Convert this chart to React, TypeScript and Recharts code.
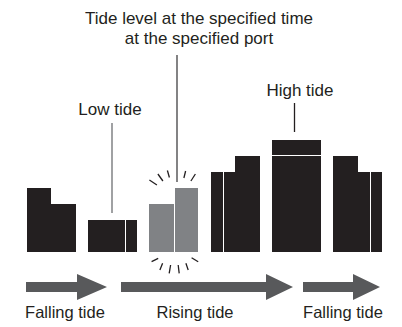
import React from "react";
import { BarChart, Bar, XAxis, YAxis, Customized } from "recharts";

// ---- data ----
const categories = [
  "g1a", "g1b", "g1c", "g1d", "sp1",
  "g2a", "g2b", "g2c", "g2d", "sp2",
  "g3a", "g3b", "g3c", "g3d", "sp3",
  "g4a", "g4b", "g4c", "g4d", "sp4",
  "g5a", "g5b", "g5c", "g5d", "sp5",
  "g6a", "g6b", "g6c", "g6d",
];
const baseLevel = [4, 4, 3, 3, 0, 2, 2, 2, 2, 0, 3, 3, 4, 4, 0, 5, 5, 6, 6, 0, 6, 6, 6, 6, 0, 6, 6, 5, 5];
const capLevel = [0, 0, 0, 0, 0, 0, 0, 0, 0, 0, 0, 0, 0, 0, 0, 0, 0, 0, 0, 0, 1, 1, 1, 1, 0, 0, 0, 0, 0];
const highlighted = [0, 0, 0, 0, 0, 0, 0, 0, 0, 0, 1, 1, 1, 1, 0, 0, 0, 0, 0, 0, 0, 0, 0, 0, 0, 0, 0, 0, 0];
const splitBefore = [0, 0, 0, 0, 0, 0, 0, 0, 1, 0, 0, 0, 1, 0, 0, 0, 1, 0, 0, 0, 0, 0, 0, 0, 0, 0, 0, 0, 1];
const sparkleAt = "g3c";
const phaseLabels = ["Falling tide", "Rising tide", "Falling tide"];
const titleLines = ["Tide level at the specified time", "at the specified port"];
const lowLabel = "Low tide";
const highLabel = "High tide";

const data = categories.map((c, i) => ({
  slot: c,
  base: baseLevel[i],
  cap: capLevel[i],
  hl: highlighted[i] === 1,
  split: splitBefore[i] === 1,
}));

// ---- layout ----
const W = 402;
const H = 327;
const MARGIN = { top: 0, right: 20, bottom: 75, left: 27 };
const PLOT_W = W - MARGIN.left - MARGIN.right;
const BAND = PLOT_W / categories.length;

const BLACK = "#231f20";
const GREY = "#808285";
const ARROW = "#58595b";
const FONT = "'Liberation Sans', Arial, Helvetica, sans-serif";

const topSparks = [
  [-24.5, -8, -17, -3],
  [-16, -14, -11, -7],
  [-6.5, -17.5, -4.5, -10.5],
  [11.7, -17, 10, -10],
  [21.5, -14, 17, -7],
];
const bottomSparks = [
  [-22.3, 9.7, -15.7, 6.3],
  [-14, 18, -11.3, 11.3],
  [-4.7, 21.3, -3.3, 13],
  [5.3, 21.3, 4.3, 13],
  [14.3, 18, 12, 11.3],
  [24.3, 9.7, 17.7, 5.7],
];

const BaseShape = (props: any) => {
  const { x, y, height, payload } = props;
  if (!height || height <= 0) return null;
  const fill = payload.hl ? GREY : BLACK;
  const bottom = y + height;
  return (
    <g>
      <rect x={x} y={y} width={BAND} height={height} fill={fill} shapeRendering="crispEdges" />
      {payload.split && (
        <rect x={x} y={y} width={1} height={height} fill="#fff" shapeRendering="crispEdges" />
      )}
      {payload.slot === sparkleAt && (
        <g stroke={BLACK} strokeWidth={1.3} strokeLinecap="butt">
          {topSparks.map((s, i) => (
            <line key={"t" + i} x1={x + s[0]} y1={y + s[1]} x2={x + s[2]} y2={y + s[3]} />
          ))}
          {bottomSparks.map((s, i) => (
            <line key={"b" + i} x1={x + s[0]} y1={bottom + s[1]} x2={x + s[2]} y2={bottom + s[3]} />
          ))}
        </g>
      )}
    </g>
  );
};

const CapShape = (props: any) => {
  const { x, y, height } = props;
  if (!height || height <= 0) return null;
  return <rect x={x} y={y} width={BAND} height={height - 1} fill={BLACK} shapeRendering="crispEdges" />;
};

const arrowPath = (x0: number, xb: number, xt: number, cy: number) =>
  `M${x0},${cy - 5} L${xb},${cy - 5} L${xb},${cy - 13} L${xt},${cy} L${xb},${cy + 13} L${xb},${cy + 5} L${x0},${cy + 5} Z`;

const Annotations = () => (
  <g fontFamily={FONT} fill={BLACK}>
    <text x={199} y={24} fontSize={17} textAnchor="middle">{titleLines[0]}</text>
    <text x={199} y={44} fontSize={17} textAnchor="middle">{titleLines[1]}</text>
    <text x={110} y={115} fontSize={17} textAnchor="middle">{lowLabel}</text>
    <text x={300} y={96} fontSize={17} textAnchor="middle">{highLabel}</text>
    <line x1={177} y1={55} x2={177} y2={182} stroke="#414042" strokeWidth={1.3} />
    <line x1={112} y1={123} x2={112} y2={213} stroke={GREY} strokeWidth={1.5} />
    <line x1={294.5} y1={103} x2={294.5} y2={132} stroke={BLACK} strokeWidth={1.3} />
    <path d={arrowPath(26, 77, 107, 287)} fill={ARROW} />
    <path d={arrowPath(121, 266, 293, 287)} fill={ARROW} />
    <path d={arrowPath(303, 353, 380, 287)} fill={ARROW} />
    <text x={65} y={318} fontSize={16.5} textAnchor="middle">{phaseLabels[0]}</text>
    <text x={195} y={318} fontSize={16.5} textAnchor="middle">{phaseLabels[1]}</text>
    <text x={343} y={318} fontSize={16.5} textAnchor="middle">{phaseLabels[2]}</text>
  </g>
);

export default function App() {
  return (
    <div style={{ position: "absolute", left: 0, top: 0, width: W, height: H, background: "#fff" }}>
      <BarChart width={W} height={H} data={data} margin={MARGIN} barCategoryGap={0} barGap={0}>
        <XAxis dataKey="slot" hide />
        <YAxis hide domain={[0, 15.75]} />
        <Bar dataKey="base" stackId="a" isAnimationActive={false} shape={BaseShape} />
        <Bar dataKey="cap" stackId="a" isAnimationActive={false} shape={CapShape} />
        <Customized component={Annotations} />
      </BarChart>
    </div>
  );
}
